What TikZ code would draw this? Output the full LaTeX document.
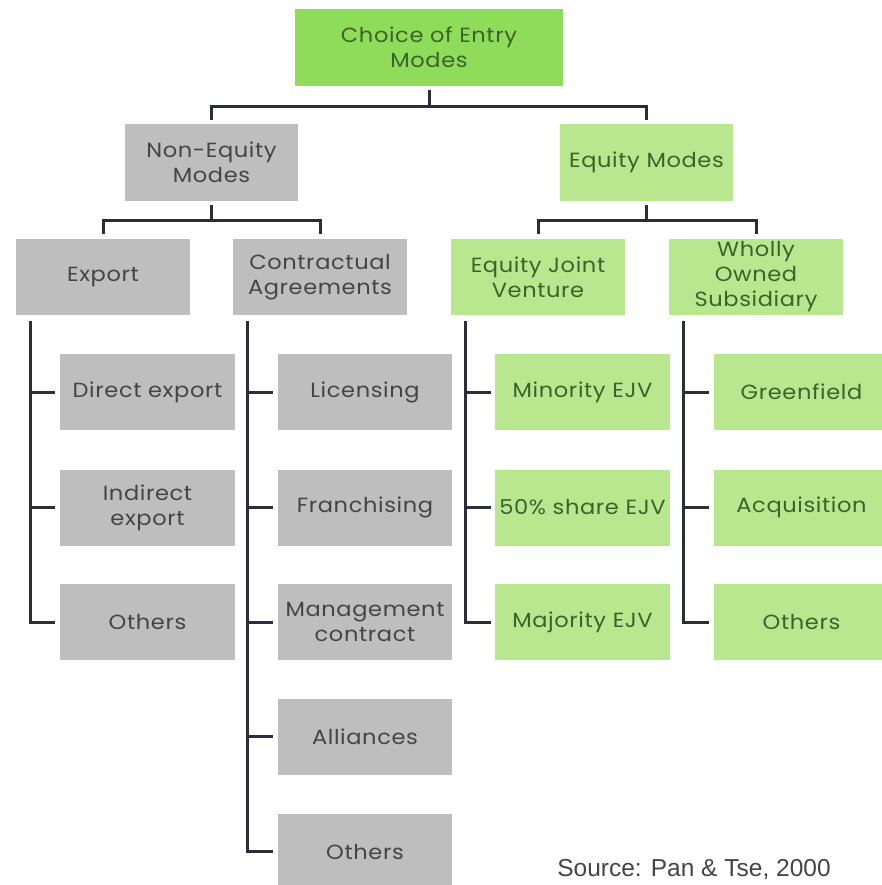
\documentclass[tikz,border=0pt]{standalone}
\usepackage{fontspec}
\setmainfont{Poppins}[FakeStretch=1.1,LetterSpace=3]
\newfontfamily\srcfont{Liberation Sans}
\definecolor{topgreen}{HTML}{8FDB5A}
\definecolor{lightgreen}{HTML}{B9E78F}
\definecolor{graybox}{HTML}{BEBEBE}
\definecolor{graytext}{HTML}{454545}
\definecolor{greentext}{HTML}{3A6428}
\definecolor{linecol}{HTML}{2A2E38}
\begin{document}
\begin{tikzpicture}[x=1pt,y=-1pt,
  box/.style={rectangle, inner sep=0pt, align=center, minimum width=174pt, minimum height=76pt,
    font=\fontsize{20.5}{25}\selectfont},
  gbox/.style={box, fill=graybox, text=graytext},
  lbox/.style={box, fill=lightgreen, text=greentext},
  tbox/.style={box, fill=topgreen, text=greentext},
  conn/.style={draw=linecol, line width=3pt}]
\useasboundingbox[fill=white] (0,0) rectangle (881,885);

% level 0
\node[tbox, minimum width=268pt, minimum height=77pt] (top) at (429,47.5) {Choice of Entry\\Modes};
% level 1
\node[gbox, minimum width=173pt, minimum height=77pt] (noneq) at (211.5,162.5) {Non-Equity\\Modes};
\node[lbox, minimum width=173pt, minimum height=77pt] (eqm) at (646.5,162.5) {Equity Modes};
% level 2
\node[gbox] (export) at (103,277) {Export};
\node[gbox] (contr) at (320,277) {Contractual\\Agreements};
\node[lbox] (ejv) at (538,277) {Equity Joint\\Venture};
\node[lbox] (wos) at (756,277) {Wholly\\Owned\\Subsidiary};
% level 3 - export
\node[gbox, minimum width=175pt] (dexp) at (147.5,392) {Direct export};
\node[gbox, minimum width=175pt] (iexp) at (147.5,507.5) {Indirect\\export};
\node[gbox, minimum width=175pt] (oexp) at (147.5,622) {Others};
% contractual
\node[gbox] (lic) at (365,392) {Licensing};
\node[gbox] (fra) at (365,507.5) {Franchising};
\node[gbox] (man) at (365,622) {Management\\contract};
\node[gbox] (all) at (365,736.5) {Alliances};
\node[gbox] (ocon) at (365,851.5) {Others};
% EJV
\node[lbox, minimum width=175pt] (minejv) at (582.5,392) {Minority EJV};
\node[lbox, minimum width=175pt] (halfejv) at (582.5,507.5) {50\% share EJV};
\node[lbox, minimum width=175pt] (majejv) at (582.5,622) {Majority EJV};
% WOS
\node[lbox, minimum width=175pt] (green) at (801.5,392) {Greenfield};
\node[lbox, minimum width=175pt] (acq) at (801.5,507.5) {Acquisition};
\node[lbox, minimum width=175pt] (owos) at (801.5,622) {Others};

% connectors top
\draw[conn] ([yshift=-4pt]top.south) -- ([yshift=-20pt]top.south) -| ([yshift=4pt]noneq.north);
\draw[conn] ([yshift=-20pt]top.south) -| ([yshift=4pt]eqm.north);
\draw[conn] ([yshift=-4pt]noneq.south) -- ([yshift=-19pt]noneq.south) -| ([yshift=5pt]export.north);
\draw[conn] ([yshift=-19pt]noneq.south) -| ([yshift=5pt]contr.north);
\draw[conn] ([yshift=-4pt]eqm.south) -- ([yshift=-19pt]eqm.south) -| ([yshift=5pt]ejv.north);
\draw[conn] ([yshift=-19pt]eqm.south) -| ([yshift=5pt]wos.north);

% child lines
\foreach \c in {dexp,iexp,oexp}
  \draw[conn] ([xshift=15pt,yshift=-6pt]export.south west) |- ([xshift=-5pt]\c.west);
\foreach \c in {lic,fra,man,all,ocon}
  \draw[conn] ([xshift=15pt,yshift=-6pt]contr.south west) |- ([xshift=-5pt]\c.west);
\foreach \c in {minejv,halfejv,majejv}
  \draw[conn] ([xshift=15pt,yshift=-6pt]ejv.south west) |- ([xshift=-4pt]\c.west);
\foreach \c in {green,acq,owos}
  \draw[conn] ([xshift=15pt,yshift=-6pt]wos.south west) |- ([xshift=-5pt]\c.west);

\node[text=graytext, font=\srcfont\fontsize{24.5}{28}\selectfont, inner sep=0pt] (src) at (694,870) {Source: Pan \& Tse, 2000};
\end{tikzpicture}
\end{document}
